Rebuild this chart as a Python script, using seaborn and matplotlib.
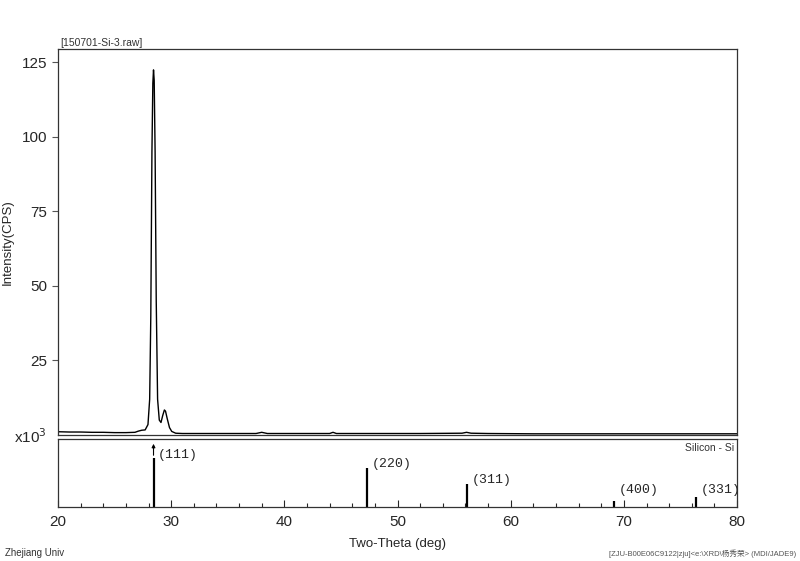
import numpy as np
import pandas as pd
import matplotlib
matplotlib.use("Agg")
import matplotlib.pyplot as plt
import seaborn as sns

two_theta = [20.0, 21.0, 22.0, 23.0, 24.0, 25.0, 26.0, 26.8, 27.1, 27.4, 27.7, 27.95,
             28.1, 28.2, 28.3, 28.38, 28.44, 28.5, 28.58, 28.68, 28.8, 28.95, 29.1,
             29.25, 29.4, 29.5, 29.65, 29.85, 30.05, 30.4, 31.0, 33.0, 35.0, 37.5,
             38.0, 38.5, 40.0, 42.0, 44.0, 44.3, 44.6, 46.0, 47.2, 47.4, 48.0, 50.0,
             52.0, 55.7, 56.1, 56.5, 58.0, 62.0, 66.0, 69.2, 70.0, 74.0, 76.4, 78.0, 80.0]
intensity = [1.1, 1.0, 1.0, 0.9, 0.9, 0.8, 0.8, 0.9, 1.3, 1.6, 1.7, 3.5,
             12.0, 40.0, 95.0, 118.0, 122.5, 119.0, 95.0, 45.0, 12.0, 5.0, 4.2,
             6.5, 8.4, 8.0, 5.5, 2.5, 1.2, 0.6, 0.5, 0.5, 0.5, 0.5,
             0.9, 0.5, 0.5, 0.5, 0.5, 0.9, 0.5, 0.5, 0.5, 0.5, 0.5, 0.5,
             0.5, 0.6, 0.9, 0.6, 0.5, 0.4, 0.4, 0.4, 0.4, 0.4, 0.4, 0.4, 0.4]

# reference card: Silicon - Si
hkl = ["(111)", "(220)", "(311)", "(400)", "(331)"]
ref_pos = [28.44, 47.30, 56.12, 69.13, 76.38]
ref_int = [72, 58, 34, 9, 15]

sns.set_style("ticks")
plt.rcParams["font.family"] = ["Liberation Sans", "Noto Sans CJK SC", "DejaVu Sans"]

fig = plt.figure(figsize=(8, 5.61), dpi=100)
ax = fig.add_axes([0.0725, 0.2246, 0.8488, 0.688])
ax2 = fig.add_axes([0.0725, 0.0963, 0.8488, 0.1212])

df = pd.DataFrame({"two_theta": two_theta, "intensity": intensity})
sns.lineplot(data=df, x="two_theta", y="intensity", ax=ax, color="black", lw=1.0)
ax.set_xlim(20, 80)
ax.set_ylim(0, 129.5)
ax.set_yticks([25, 50, 75, 100, 125])
ax.set_xticks([])
ax.set_xlabel("")
ax.set_ylabel("Intensity(CPS)", fontsize=9.5, labelpad=6)
ax.tick_params(axis="y", labelsize=11, direction="out", length=4, width=0.8, color="#555555")
for s in ax.spines.values():
    s.set_visible(True)
    s.set_color("#333333")
    s.set_linewidth(0.9)
ax.text(-0.065, -0.005, r"x10$^3$", transform=ax.transAxes, fontsize=11,
        ha="left", va="center")
ax.text(0.004, 1.003, "[150701-Si-3.raw]", transform=ax.transAxes, fontsize=7.5,
        ha="left", va="bottom", color="#333333")

# stick pattern
ax2.vlines(ref_pos, 0, ref_int, color="black", lw=1.6)
ax2.annotate("", xy=(ref_pos[0], 97), xytext=(ref_pos[0], ref_int[0]),
             arrowprops=dict(arrowstyle="-|>", lw=0.8, color="black",
                             mutation_scale=5))
for p, h, lab in zip(ref_pos, ref_int, hkl):
    ax2.text(p + 0.4, max(h + 5, 25), lab, fontsize=9.5, family="Liberation Mono",
             ha="left", va="center")
ax2.set_xlim(20, 80)
ax2.set_ylim(0, 100)
ax2.set_yticks([])
ax2.set_xticks(range(20, 81, 10))
ax2.set_xticks(range(20, 81, 2), minor=True)
ax2.tick_params(axis="x", which="major", direction="in", length=5, width=0.8,
                labelsize=11, pad=6)
ax2.tick_params(axis="x", which="minor", direction="in", length=3, width=0.8)
for s in ax2.spines.values():
    s.set_visible(True)
    s.set_color("#333333")
    s.set_linewidth(0.9)
ax2.set_xlabel("Two-Theta (deg)", fontsize=9.5, labelpad=6)
ax2.text(0.995, 0.94, "Silicon - Si", transform=ax2.transAxes, fontsize=7.5,
         ha="right", va="top", color="#333333")

fig.text(0.006, 0.005, "Zhejiang Univ", fontsize=7, color="#333333", ha="left", va="bottom")
fig.text(0.995, 0.005, "[ZJU-B00E06C9122|zju]<e:\\XRD\\杨秀荣> (MDI/JADE9)",
         fontsize=5.5, color="#555555", ha="right", va="bottom")

fig.savefig("out.png", dpi=100)
